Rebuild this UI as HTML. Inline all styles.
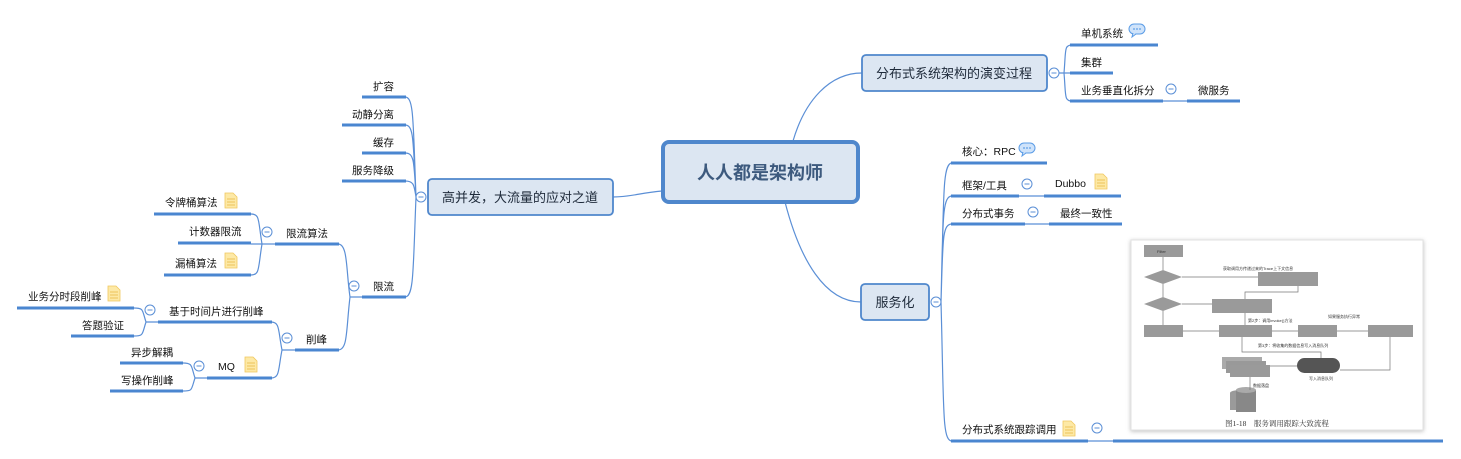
<!DOCTYPE html>
<html><head><meta charset="utf-8"><style>
html,body{margin:0;padding:0;background:#fff;}
svg{display:block;font-family:"Liberation Sans","Noto Sans CJK SC",sans-serif;}
.t{font-size:10.5px;fill:#111;}
.u{stroke:#4a86d0;stroke-width:3;fill:none;}
.c{stroke:#5b8fd6;stroke-width:1.2;fill:none;}
.cc{fill:#fff;stroke:#5b8fd6;stroke-width:1;}
.fb{fill:#9a9a9a;}
.ft{font-size:4px;fill:#fff;}
.fs{font-size:4px;fill:#333;}
.fl{stroke:#777;stroke-width:0.7;fill:none;}
</style></head><body>
<svg width="1461" height="459" viewBox="0 0 1461 459" xmlns="http://www.w3.org/2000/svg">
<defs>
<g id="note"><path d="M0,0 h8 l4,4 v11 h-12z" fill="#fde9a6" stroke="#f0c860" stroke-width="0.8"/><path d="M2,6h8M2,9h8M2,12h8" stroke="#e8b840" stroke-width="0.8"/></g>
<g id="cmt"><rect x="0" y="0" width="16" height="10" rx="5" fill="#cfe3fa" stroke="#5b9ce6" stroke-width="1"/><path d="M4,9 l-1,4 4,-3" fill="#cfe3fa" stroke="#5b9ce6" stroke-width="1"/><circle cx="5" cy="5" r="0.9" fill="#5b9ce6"/><circle cx="8" cy="5" r="0.9" fill="#5b9ce6"/><circle cx="11" cy="5" r="0.9" fill="#5b9ce6"/></g>
<g id="col"><circle cx="0" cy="0" r="5" class="cc"/><path d="M-2.5,0h5" stroke="#5b8fd6" stroke-width="1"/></g>
</defs>

<!-- main connectors -->
<path class="c" d="M793,141 C805,100 830,73 862,73"/>
<path class="c" d="M785,202 C800,260 825,302 861,302"/>
<path class="c" d="M662,191 C640,193 630,197 613,197"/>

<!-- central -->
<rect x="663" y="142" width="195" height="60" rx="6" fill="#dce6f2" stroke="#4f87cc" stroke-width="4"/>
<text x="760" y="179" text-anchor="middle" style="font-size:18px;font-weight:bold;fill:#3d5a7e">人人都是架构师</text>

<!-- 分布式系统架构的演变过程 -->
<rect x="862" y="55" width="185" height="36" rx="4" fill="#dce6f2" stroke="#4f87cc" stroke-width="1.8"/>
<text x="954" y="78" text-anchor="middle" style="font-size:13px;fill:#1e2a3a">分布式系统架构的演变过程</text>
<path class="c" d="M1059,73 H1064 M1064,73 C1066,50 1064,45 1072,45 M1064,73 H1072 M1064,73 C1066,96 1064,101 1072,101"/>
<use href="#col" x="1054" y="73"/>
<path class="u" d="M1070,45H1158 M1070,73H1113 M1070,101H1163 M1187,101H1240"/>
<path class="c" d="M1163,101H1187"/>
<use href="#col" x="1171" y="89"/>
<text class="t" x="1081" y="37">单机系统</text><use href="#cmt" x="1129" y="24"/>
<text class="t" x="1081" y="66">集群</text>
<text class="t" x="1081" y="94">业务垂直化拆分</text>
<text class="t" x="1198" y="94">微服务</text>

<!-- 高并发 -->
<rect x="428" y="179" width="185" height="36" rx="4" fill="#dce6f2" stroke="#4f87cc" stroke-width="1.8"/>
<text x="520" y="202" text-anchor="middle" style="font-size:13px;fill:#1e2a3a">高并发，大流量的应对之道</text>
<use href="#col" x="421" y="197"/>
<path class="c" d="M416,197 C413,120 414,97 405,97 M416,197 C413,140 414,125 405,125 M416,197 C414,160 414,153 405,153 M416,197 C414,185 414,181 405,181 M416,197 C413,270 414,297 405,297"/>
<path class="u" d="M362,97H406 M342,125H406 M362,153H406 M342,181H406 M362,297H406"/>
<text class="t" x="373" y="90">扩容</text>
<text class="t" x="352" y="118">动静分离</text>
<text class="t" x="373" y="146">缓存</text>
<text class="t" x="352" y="174">服务降级</text>
<text class="t" x="373" y="290">限流</text>
<use href="#col" x="354" y="286"/>
<path class="c" d="M362,297H350 C346,270 348,244 338,244 M350,297 C346,330 348,350 338,350"/>
<path class="u" d="M275,244H339 M295,350H339"/>
<text class="t" x="286" y="237">限流算法</text>
<text class="t" x="306" y="343">削峰</text>
<use href="#col" x="267" y="232"/>
<use href="#col" x="287" y="338"/>
<path class="c" d="M275,244H262 C258,220 260,214 251,214 M262,244 H251 M262,244 C258,268 260,275 251,275"/>
<path class="u" d="M154,214H251 M178,243H251 M164,275H251"/>
<text class="t" x="165" y="206">令牌桶算法</text><use href="#note" x="225" y="193"/>
<text class="t" x="189" y="235">计数器限流</text>
<text class="t" x="175" y="267">漏桶算法</text><use href="#note" x="225" y="253"/>
<path class="c" d="M295,350H282 C278,330 280,322 271,322 M282,350 C278,370 280,378 271,378"/>
<path class="u" d="M158,322H272 M207,378H272"/>
<text class="t" x="169" y="315">基于时间片进行削峰</text>
<text class="t" x="218" y="370">MQ</text><use href="#note" x="245" y="357"/>
<use href="#col" x="150" y="310"/>
<use href="#col" x="199" y="366"/>
<path class="c" d="M158,322H146 C142,310 144,308 134,308 M146,322 C142,334 144,336 134,336"/>
<path class="u" d="M17,308H134 M71,336H134"/>
<text class="t" x="28" y="300">业务分时段削峰</text><use href="#note" x="108" y="286"/>
<text class="t" x="82" y="329">答题验证</text>
<path class="c" d="M207,378H195 C191,366 193,363 183,363 M195,378 C191,390 193,391 183,391"/>
<path class="u" d="M120,363H183 M110,391H183"/>
<text class="t" x="131" y="356">异步解耦</text>
<text class="t" x="121" y="384">写操作削峰</text>

<!-- 服务化 -->
<rect x="861" y="284" width="68" height="36" rx="4" fill="#dce6f2" stroke="#4f87cc" stroke-width="1.8"/>
<text x="895" y="307" text-anchor="middle" style="font-size:13px;fill:#1e2a3a">服务化</text>
<use href="#col" x="936" y="302"/>
<path class="c" d="M941,302 C944,200 942,163 952,163 M941,302 C943,220 942,196 952,196 M941,302 C943,240 942,224 952,224 M941,302 C944,410 942,441 952,441"/>
<path class="u" d="M951,163H1047 M951,196H1019 M951,224H1025 M1044,196H1121 M1049,224H1122 M951,441H1088 M1113,441H1443"/>
<path class="c" d="M1019,196H1044 M1025,224H1049 M1088,441H1113"/>
<use href="#col" x="1027" y="184"/>
<use href="#col" x="1033" y="212"/>
<use href="#col" x="1097" y="428"/>
<text class="t" x="962" y="155">核心：RPC</text><use href="#cmt" x="1019" y="143"/>
<text class="t" x="962" y="189">框架/工具</text>
<text class="t" x="1055" y="187">Dubbo</text><use href="#note" x="1095" y="174"/>
<text class="t" x="962" y="217">分布式事务</text>
<text class="t" x="1060" y="217">最终一致性</text>
<text class="t" x="962" y="433">分布式系统跟踪调用</text><use href="#note" x="1063" y="421"/>

<!-- flowchart image -->
<rect x="1131" y="240" width="292" height="190" fill="#fff" stroke="#e2e2e2" stroke-width="1" style="filter:drop-shadow(0 1px 2px rgba(0,0,0,0.25))"/>
<g>
<rect class="fb" x="1144" y="245" width="39" height="12"/>
<path class="fb" d="M1144,277 l19,-7 19,7 -19,7z"/>
<path class="fb" d="M1144,304 l19,-7 19,7 -19,7z"/>
<rect class="fb" x="1144" y="325" width="39" height="12"/>
<rect class="fb" x="1258" y="272" width="60" height="14"/>
<rect class="fb" x="1212" y="299" width="60" height="14"/>
<rect class="fb" x="1219" y="325" width="53" height="12"/>
<rect class="fb" x="1298" y="325" width="39" height="12"/>
<rect class="fb" x="1368" y="325" width="45" height="12"/>
<rect x="1297" y="358" width="43" height="15" rx="7.5" fill="#555"/>
<rect x="1222" y="357" width="40" height="12" fill="#aaa"/>
<rect x="1226" y="361" width="40" height="12" fill="#999"/>
<rect class="fb" x="1230" y="365" width="40" height="12"/>
<ellipse cx="1240" cy="393" rx="10" ry="3" fill="#999"/><rect class="fb" x="1230" y="393" width="20" height="17"/>
<rect fill="#888" x="1236" y="390" width="20" height="22"/><ellipse cx="1246" cy="390" rx="10" ry="3" fill="#aaa"/>
<path class="fl" d="M1163,257V270 M1182,277H1258 M1163,284V297 M1182,304H1212 M1163,311V325 M1183,331H1219 M1272,331H1298 M1337,331H1368 M1242,337V352H1321V358 M1390,337V370H1340 M1297,366H1270 M1250,377V390 M1298,286V292H1245V299 M1245,313V325"/>
<text class="fs" x="1157" y="253">Filter</text>
<text class="fs" x="1223" y="270">获取调用方传递过来的Trace上下文信息</text>
<text class="fs" x="1309" y="380" >写入消息队列</text>
<text class="fs" x="1248" y="322">第2步：调用invoke()方法</text>
<text class="fs" x="1328" y="318">如果服务执行异常</text>
<text class="fs" x="1258" y="347">第3步：将收集的数据信息写入消息队列</text>
<text class="fs" x="1253" y="387">数据落盘</text>
<text x="1277" y="426" text-anchor="middle" style="font-size:7.5px;fill:#333;font-family:'Liberation Serif','Noto Serif CJK SC',serif">图1-18　服务调用跟踪大致流程</text>
</g>
</svg>
</body></html>
